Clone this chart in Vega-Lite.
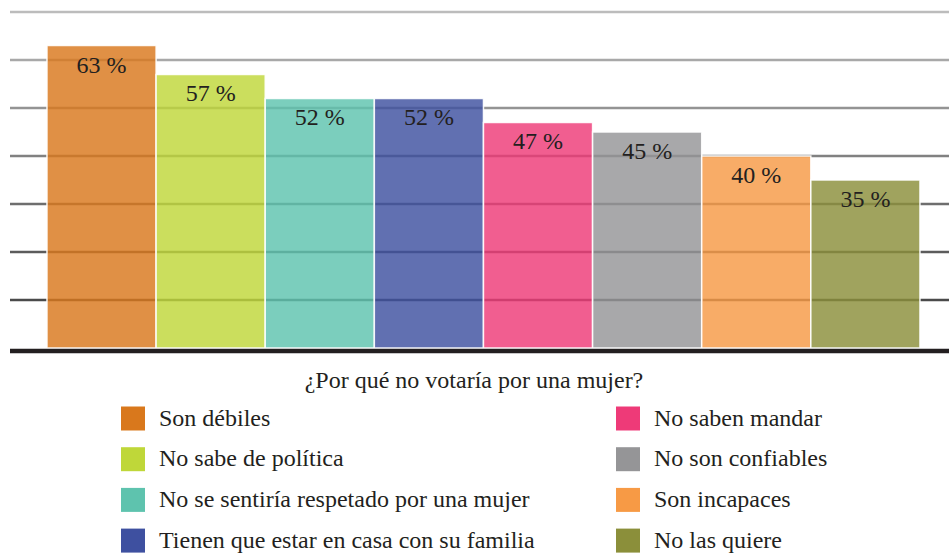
{
  "$schema": "https://vega.github.io/schema/vega-lite/v6.json",
  "width": 939,
  "height": 336,
  "autosize": {"type": "none"},
  "padding": {"left": 10, "top": 12, "right": 0, "bottom": 208},
  "background": "white",
  "config": {"view": {"stroke": null}},
  "datasets": {
    "bars": [
      {"motivo": "Son débiles", "pct": 63, "label": "63 %"},
      {"motivo": "No sabe de política", "pct": 57, "label": "57 %"},
      {"motivo": "No se sentiría respetado por una mujer", "pct": 52, "label": "52 %"},
      {"motivo": "Tienen que estar en casa con su familia", "pct": 52, "label": "52 %"},
      {"motivo": "No saben mandar", "pct": 47, "label": "47 %"},
      {"motivo": "No son confiables", "pct": 45, "label": "45 %"},
      {"motivo": "Son incapaces", "pct": 40, "label": "40 %"},
      {"motivo": "No las quiere", "pct": 35, "label": "35 %"}
    ],
    "grid": [
      {"v": 10}, {"v": 20}, {"v": 30}, {"v": 40}, {"v": 50}, {"v": 60}, {"v": 70}
    ],
    "base": [{"v": 0}]
  },
  "layer": [
    {
      "data": {"name": "grid"},
      "mark": {"type": "rule", "strokeWidth": 2.5},
      "encoding": {
        "y": {"field": "v", "type": "quantitative", "scale": {"domain": [0, 70], "nice": false}, "axis": null},
        "stroke": {"field": "v", "type": "quantitative", "scale": {"domain": [10, 70], "range": ["#4a4a4a", "#bcbcbc"]}, "legend": null}
      }
    },
    {
      "data": {"name": "bars"},
      "mark": {"type": "bar", "fillOpacity": 0.82, "stroke": "white", "strokeWidth": 1.5, "strokeOpacity": 0.9},
      "encoding": {
        "x": {
          "field": "motivo", "type": "nominal", "axis": null,
          "sort": ["Son débiles", "No sabe de política", "No se sentiría respetado por una mujer", "Tienen que estar en casa con su familia", "No saben mandar", "No son confiables", "Son incapaces", "No las quiere"],
          "scale": {"paddingInner": 0, "paddingOuter": 0.3025, "align": 0.56}
        },
        "y": {"field": "pct", "type": "quantitative", "scale": {"domain": [0, 70], "nice": false}, "axis": null},
        "color": {
          "field": "motivo", "type": "nominal",
          "scale": {
            "domain": ["Son débiles", "No sabe de política", "No se sentiría respetado por una mujer", "Tienen que estar en casa con su familia", "No saben mandar", "No son confiables", "Son incapaces", "No las quiere"],
            "range": ["#D9781C", "#BFD739", "#5EC3AE", "#3E50A0", "#EE3A78", "#959597", "#F79A45", "#8B8F3A"]
          },
          "legend": {
            "orient": "none",
            "legendX": 111,
            "legendY": 357,
            "columns": 2,
            "title": "¿Por qué no votaría por una mujer?",
            "titleAnchor": "middle",
            "titleFont": "Liberation Serif",
            "titleFontWeight": "normal",
            "titleFontSize": 24,
            "titleColor": "#231f20",
            "titlePadding": 13.5,
            "titleLimit": 800,
            "symbolType": "square",
            "symbolSize": 576,
            "symbolOpacity": 1,
            "symbolStrokeWidth": 0,
            "labelFont": "Liberation Serif",
            "labelFontSize": 24,
            "labelColor": "#231f20",
            "labelOffset": 14,
            "labelLimit": 600,
            "rowPadding": 16.7,
            "columnPadding": 81
          }
        }
      }
    },
    {
      "data": {"name": "bars"},
      "mark": {"type": "text", "font": "Liberation Serif", "fontSize": 24, "color": "#231f20", "baseline": "alphabetic", "dy": 27},
      "encoding": {
        "x": {
          "field": "motivo", "type": "nominal",
          "sort": ["Son débiles", "No sabe de política", "No se sentiría respetado por una mujer", "Tienen que estar en casa con su familia", "No saben mandar", "No son confiables", "Son incapaces", "No las quiere"]
        },
        "y": {"field": "pct", "type": "quantitative"},
        "text": {"field": "label", "type": "nominal"}
      }
    },
    {
      "data": {"name": "base"},
      "mark": {"type": "rule", "color": "#231f20", "strokeWidth": 4.5, "yOffset": 3},
      "encoding": {
        "y": {"field": "v", "type": "quantitative"}
      }
    }
  ]
}
